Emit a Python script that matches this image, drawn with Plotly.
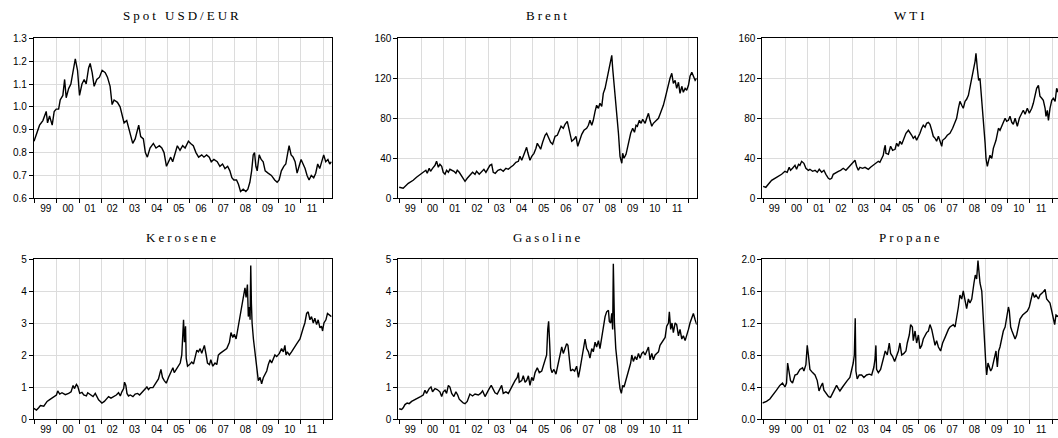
import numpy as np
import pandas as pd
import plotly.graph_objects as go
from datetime import datetime

# ---------------- data (decimal years) ----------------
usd_t = [1998.97, 1999.10, 1999.22, 1999.37, 1999.52, 1999.58, 1999.67, 1999.79, 1999.88, 1999.97,
         2000.08, 2000.15, 2000.27, 2000.35, 2000.42, 2000.53, 2000.63, 2000.72, 2000.83, 2000.93,
         2001.02, 2001.13, 2001.23, 2001.32, 2001.43, 2001.50, 2001.59, 2001.68, 2001.80, 2001.92,
         2002.04, 2002.18, 2002.28, 2002.40, 2002.49, 2002.58, 2002.73, 2002.85, 2002.94, 2003.03,
         2003.15, 2003.24, 2003.33, 2003.42, 2003.53, 2003.60, 2003.69, 2003.78, 2003.90, 2003.99,
         2004.08, 2004.20, 2004.35, 2004.47, 2004.62, 2004.73, 2004.83, 2004.94, 2005.03, 2005.13,
         2005.22, 2005.33, 2005.43, 2005.55, 2005.67, 2005.78, 2005.93, 2006.03, 2006.15, 2006.27,
         2006.39, 2006.53, 2006.63, 2006.75, 2006.87, 2006.96, 2007.08, 2007.23, 2007.35, 2007.47,
         2007.58, 2007.70, 2007.80, 2007.89, 2007.98, 2008.10, 2008.19, 2008.28, 2008.40, 2008.52,
         2008.61, 2008.70, 2008.78, 2008.85, 2008.91, 2008.97, 2009.03, 2009.12, 2009.21, 2009.30,
         2009.39, 2009.52, 2009.67, 2009.82, 2009.93, 2010.02, 2010.12, 2010.23, 2010.32, 2010.41,
         2010.47, 2010.56, 2010.65, 2010.74, 2010.83, 2010.92, 2011.01, 2011.10, 2011.19, 2011.28,
         2011.37, 2011.47, 2011.58, 2011.67, 2011.76, 2011.85, 2011.94, 2012.03, 2012.12, 2012.22,
         2012.30, 2012.38]
usd_v = [0.85, 0.89, 0.92, 0.94, 0.98, 0.93, 0.96, 0.92, 0.98, 0.99,
         0.99, 1.03, 1.05, 1.12, 1.04, 1.08, 1.10, 1.15, 1.21, 1.16,
         1.05, 1.10, 1.12, 1.10, 1.17, 1.19, 1.15, 1.09, 1.12, 1.13,
         1.16, 1.15, 1.13, 1.09, 1.01, 1.03, 1.02, 1.00, 0.96, 0.93,
         0.94, 0.91, 0.87, 0.84, 0.86, 0.89, 0.92, 0.87, 0.86, 0.80,
         0.78, 0.82, 0.84, 0.82, 0.83, 0.82, 0.80, 0.74, 0.76, 0.78,
         0.76, 0.80, 0.83, 0.81, 0.83, 0.82, 0.85, 0.84, 0.83, 0.80,
         0.78, 0.79, 0.78, 0.79, 0.78, 0.76, 0.77, 0.76, 0.74, 0.75,
         0.73, 0.74, 0.72, 0.69, 0.68, 0.68, 0.66, 0.63, 0.64, 0.63,
         0.64, 0.67, 0.72, 0.79, 0.80, 0.74, 0.72, 0.79, 0.77, 0.76,
         0.72, 0.71, 0.70, 0.68, 0.67, 0.68, 0.72, 0.74, 0.75, 0.80,
         0.83, 0.79, 0.78, 0.76, 0.71, 0.74, 0.77, 0.75, 0.73, 0.70,
         0.68, 0.70, 0.69, 0.71, 0.75, 0.73, 0.76, 0.79, 0.76, 0.77,
         0.75, 0.76]

brent_t = [1999.00, 1999.18, 1999.41, 1999.63, 1999.78, 1999.93, 2000.08, 2000.20, 2000.26, 2000.35,
           2000.41, 2000.50, 2000.61, 2000.68, 2000.76, 2000.83, 2000.91, 2000.98, 2001.06, 2001.13,
           2001.21, 2001.28, 2001.36, 2001.46, 2001.55, 2001.61, 2001.70, 2001.76, 2001.81, 2001.88,
           2001.96, 2002.06, 2002.18, 2002.30, 2002.41, 2002.48, 2002.60, 2002.71, 2002.81, 2002.90,
           2002.99, 2003.08, 2003.16, 2003.23, 2003.32, 2003.44, 2003.56, 2003.68, 2003.80, 2003.91,
           2004.01, 2004.13, 2004.25, 2004.36, 2004.43, 2004.51, 2004.58, 2004.66, 2004.73, 2004.78,
           2004.88, 2004.96, 2005.06, 2005.15, 2005.21, 2005.29, 2005.36, 2005.45, 2005.56, 2005.63,
           2005.71, 2005.81, 2005.90, 2006.01, 2006.11, 2006.20, 2006.28, 2006.38, 2006.46, 2006.56,
           2006.68, 2006.76, 2006.86, 2006.95, 2007.03, 2007.10, 2007.21, 2007.31, 2007.43, 2007.51,
           2007.58, 2007.66, 2007.73, 2007.81, 2007.88, 2007.96, 2008.03, 2008.11, 2008.18, 2008.26,
           2008.33, 2008.41, 2008.48, 2008.56, 2008.60, 2008.66, 2008.74, 2008.78, 2008.86, 2008.93,
           2009.01, 2009.05, 2009.11, 2009.20, 2009.26, 2009.35, 2009.41, 2009.50, 2009.58, 2009.65,
           2009.71, 2009.80, 2009.88, 2009.95, 2010.06, 2010.13, 2010.21, 2010.28, 2010.36, 2010.43,
           2010.55, 2010.66, 2010.73, 2010.81, 2010.88, 2010.96, 2011.03, 2011.11, 2011.18, 2011.26,
           2011.33, 2011.41, 2011.48, 2011.56, 2011.63, 2011.71, 2011.78, 2011.86, 2011.93, 2012.01,
           2012.08, 2012.16, 2012.23, 2012.31, 2012.38]
brent_v = [11, 10, 15, 18, 21, 24, 26, 28, 25, 30,
           27, 30, 33, 37, 31, 34, 32, 26, 24, 28,
           26, 29, 28, 27, 25, 28, 26, 24, 21, 19,
           17, 20, 23, 26, 24, 27, 24, 27, 29, 26,
           30, 33, 34, 26, 25, 28, 29, 27, 30, 29,
           31, 33, 36, 37, 42, 38, 42, 48, 51, 46,
           38, 42, 45, 50, 55, 52, 49, 56, 63, 65,
           60, 56, 54, 62, 63, 68, 72, 70, 74, 77,
           64, 57, 59, 62, 52, 57, 64, 68, 70, 73,
           78, 73, 78, 87, 93, 90, 95, 92, 105, 110,
           117, 125, 133, 143, 130, 115, 100, 85, 65, 42,
           35, 45, 40, 44, 50, 57, 65, 70, 66, 73,
           72, 78, 75, 79, 75, 80, 85, 78, 72, 75,
           78, 80, 84, 88, 93, 100, 107, 115, 120, 125,
           115, 118, 110, 116, 105, 112, 106, 110, 108, 113,
           122, 126, 122, 118, 120]

wti_t = [1999.00, 1999.12, 1999.23, 1999.38, 1999.60, 1999.83, 1999.98, 2000.08, 2000.17, 2000.23,
         2000.32, 2000.43, 2000.50, 2000.59, 2000.65, 2000.73, 2000.83, 2000.92, 2001.03, 2001.10,
         2001.22, 2001.33, 2001.43, 2001.52, 2001.63, 2001.73, 2001.82, 2001.93, 2002.00, 2002.08,
         2002.15, 2002.27, 2002.38, 2002.48, 2002.60, 2002.72, 2002.83, 2002.93, 2003.05, 2003.13,
         2003.20, 2003.28, 2003.35, 2003.47, 2003.58, 2003.73, 2003.83, 2003.95, 2004.07, 2004.18,
         2004.25, 2004.33, 2004.40, 2004.45, 2004.49, 2004.52, 2004.63, 2004.73, 2004.82, 2004.93,
         2005.00, 2005.08, 2005.15, 2005.23, 2005.33, 2005.42, 2005.53, 2005.60, 2005.68, 2005.75,
         2005.83, 2005.90, 2005.98, 2006.05, 2006.13, 2006.20, 2006.28, 2006.35, 2006.43, 2006.50,
         2006.58, 2006.65, 2006.73, 2006.80, 2006.88, 2006.95, 2007.03, 2007.07, 2007.18, 2007.28,
         2007.40, 2007.52, 2007.63, 2007.70, 2007.78, 2007.85, 2007.93, 2008.00, 2008.08, 2008.15,
         2008.23, 2008.30, 2008.38, 2008.45, 2008.53, 2008.57, 2008.63, 2008.69, 2008.75, 2008.83,
         2008.90, 2008.98, 2009.02, 2009.08, 2009.14, 2009.20, 2009.28, 2009.35, 2009.47, 2009.58,
         2009.65, 2009.73, 2009.80, 2009.88, 2009.95, 2010.03, 2010.10, 2010.18, 2010.25, 2010.33,
         2010.43, 2010.52, 2010.63, 2010.70, 2010.78, 2010.88, 2010.97, 2011.08, 2011.15, 2011.23,
         2011.30, 2011.38, 2011.45, 2011.53, 2011.60, 2011.68, 2011.72, 2011.78, 2011.83, 2011.90,
         2011.98, 2012.05, 2012.13, 2012.20, 2012.27]
wti_v = [12, 11, 14, 18, 21, 24, 27, 26, 31, 28,
         30, 33, 29, 34, 33, 37, 35, 30, 28, 29,
         27, 28, 26, 29, 26, 28, 24, 20, 19, 20,
         24, 26, 27, 28, 30, 28, 31, 33, 37, 38,
         32, 28, 31, 30, 31, 29, 31, 33, 35, 37,
         36, 39, 43, 50, 53, 45, 44, 52, 48, 49,
         55, 52, 57, 54, 60, 65, 68, 66, 63, 60,
         62, 58, 61, 65, 70, 73, 71, 75, 76, 74,
         68, 62, 60, 57, 62, 58, 52, 58, 60, 63,
         65, 70, 76, 80, 90, 97, 93, 90, 97, 99,
         103, 112, 120, 128, 137, 145, 130, 118, 120, 100,
         80, 55, 40, 32, 38, 43, 40, 50, 58, 70,
         68, 72, 75, 80, 77, 78, 82, 76, 74, 80,
         72, 80, 85, 88, 84, 90, 85, 90, 95, 103,
         110, 113, 102, 100, 98, 90, 82, 88, 78, 90,
         98, 100, 97, 110, 106]

kero_t = [1998.96, 1999.08, 1999.18, 1999.26, 1999.41, 1999.56, 1999.71, 1999.86, 1999.98, 2000.04,
          2000.13, 2000.23, 2000.38, 2000.53, 2000.64, 2000.73, 2000.79, 2000.88, 2000.94, 2001.03,
          2001.13, 2001.21, 2001.33, 2001.39, 2001.51, 2001.63, 2001.73, 2001.81, 2001.88, 2001.96,
          2002.03, 2002.14, 2002.23, 2002.33, 2002.44, 2002.56, 2002.68, 2002.78, 2002.86, 2002.93,
          2003.01, 2003.05, 2003.11, 2003.16, 2003.23, 2003.31, 2003.43, 2003.53, 2003.64, 2003.73,
          2003.83, 2003.94, 2004.06, 2004.13, 2004.21, 2004.33, 2004.43, 2004.58, 2004.69, 2004.76,
          2004.84, 2004.93, 2005.03, 2005.14, 2005.23, 2005.29, 2005.38, 2005.48, 2005.56, 2005.63,
          2005.68, 2005.71, 2005.75, 2005.80, 2005.83, 2005.89, 2005.98, 2006.08, 2006.16, 2006.25,
          2006.31, 2006.38, 2006.46, 2006.53, 2006.61, 2006.65, 2006.73, 2006.79, 2006.88, 2006.94,
          2007.03, 2007.13, 2007.21, 2007.28, 2007.36, 2007.48, 2007.58, 2007.66, 2007.78, 2007.85,
          2007.93, 2008.00, 2008.08, 2008.18, 2008.26, 2008.33, 2008.41, 2008.48, 2008.53, 2008.59,
          2008.63, 2008.68, 2008.71, 2008.74, 2008.77, 2008.80, 2008.86, 2008.93, 2009.01, 2009.08,
          2009.16, 2009.23, 2009.31, 2009.38, 2009.46, 2009.53, 2009.61, 2009.68, 2009.76, 2009.83,
          2009.91, 2010.03, 2010.13, 2010.21, 2010.28, 2010.33, 2010.39, 2010.48, 2010.58, 2010.66,
          2010.81, 2010.96, 2011.03, 2011.11, 2011.18, 2011.26, 2011.33, 2011.41, 2011.48, 2011.56,
          2011.63, 2011.71, 2011.78, 2011.86, 2011.93, 2011.98, 2012.04, 2012.13, 2012.20, 2012.28,
          2012.38]
kero_v = [0.33, 0.28, 0.35, 0.42, 0.40, 0.55, 0.62, 0.70, 0.75, 0.88,
          0.78, 0.82, 0.76, 0.80, 0.85, 1.05, 0.95, 1.08, 1.02, 0.80,
          0.83, 0.75, 0.72, 0.82, 0.75, 0.70, 0.80, 0.70, 0.60, 0.55,
          0.50, 0.55, 0.62, 0.70, 0.65, 0.70, 0.75, 0.82, 0.72, 0.85,
          0.95, 1.15, 1.05, 0.80, 0.72, 0.75, 0.70, 0.78, 0.80, 0.75,
          0.82, 0.90, 1.00, 0.92, 0.98, 0.98, 1.10, 1.25, 1.55, 1.30,
          1.20, 1.12, 1.30, 1.45, 1.60, 1.45, 1.55, 1.65, 1.75, 2.00,
          2.50, 3.10, 2.40, 2.90, 1.90, 1.65, 1.70, 1.78, 1.72, 2.00,
          2.15, 2.10, 2.20, 2.05, 2.20, 2.30, 2.00, 1.75, 1.70, 1.85,
          1.65, 1.75, 1.70, 2.00, 2.05, 2.10, 2.15, 2.20, 2.40, 2.70,
          2.55, 2.65, 2.50, 2.90, 3.20, 3.50, 3.70, 4.10, 3.80, 4.20,
          3.20, 3.50, 3.10, 4.80, 3.60, 3.00, 2.50, 2.10, 1.50, 1.20,
          1.30, 1.10, 1.30, 1.40, 1.50, 1.70, 1.85, 1.75, 1.90, 2.00,
          1.95, 2.05, 2.20, 2.10, 2.30, 2.00, 2.10, 2.00, 2.10, 2.20,
          2.35, 2.50, 2.70, 2.85, 3.00, 3.30, 3.35, 3.10, 3.20, 3.00,
          3.15, 2.95, 3.10, 2.85, 2.90, 2.75, 3.00, 3.10, 3.30, 3.25,
          3.20]

gas_t = [1999.00, 1999.11, 1999.18, 1999.26, 1999.36, 1999.45, 1999.56, 1999.71, 1999.86, 1999.96,
         2000.08, 2000.16, 2000.23, 2000.35, 2000.43, 2000.50, 2000.61, 2000.71, 2000.83, 2000.91,
         2000.98, 2001.06, 2001.13, 2001.21, 2001.28, 2001.36, 2001.46, 2001.55, 2001.63, 2001.70,
         2001.81, 2001.88, 2001.96, 2002.06, 2002.18, 2002.30, 2002.41, 2002.56, 2002.66, 2002.75,
         2002.86, 2002.96, 2003.05, 2003.14, 2003.20, 2003.31, 2003.41, 2003.50, 2003.61, 2003.68,
         2003.80, 2003.91, 2004.01, 2004.10, 2004.21, 2004.31, 2004.36, 2004.40, 2004.51, 2004.58,
         2004.66, 2004.73, 2004.81, 2004.88, 2004.96, 2005.03, 2005.11, 2005.21, 2005.30, 2005.41,
         2005.48, 2005.56, 2005.63, 2005.68, 2005.72, 2005.77, 2005.81, 2005.87, 2005.96, 2006.05,
         2006.14, 2006.20, 2006.26, 2006.31, 2006.38, 2006.46, 2006.53, 2006.59, 2006.65, 2006.71,
         2006.80, 2006.89, 2006.98, 2007.06, 2007.13, 2007.21, 2007.28, 2007.36, 2007.43, 2007.51,
         2007.58, 2007.66, 2007.73, 2007.81, 2007.88, 2007.96, 2008.03, 2008.11, 2008.18, 2008.26,
         2008.33, 2008.41, 2008.45, 2008.51, 2008.56, 2008.60, 2008.63, 2008.68, 2008.74, 2008.78,
         2008.83, 2008.87, 2008.93, 2008.99, 2009.05, 2009.11, 2009.19, 2009.26, 2009.35, 2009.41,
         2009.46, 2009.53, 2009.61, 2009.68, 2009.76, 2009.83, 2009.91, 2009.98, 2010.06, 2010.13,
         2010.21, 2010.28, 2010.36, 2010.43, 2010.51, 2010.58, 2010.66, 2010.73, 2010.81, 2010.88,
         2010.96, 2011.03, 2011.11, 2011.15, 2011.21, 2011.27, 2011.33, 2011.41, 2011.48, 2011.56,
         2011.63, 2011.71, 2011.78, 2011.86, 2011.93, 2012.01, 2012.08, 2012.16, 2012.23, 2012.31,
         2012.38]
gas_v = [0.32, 0.30, 0.35, 0.45, 0.50, 0.48, 0.55, 0.60, 0.65, 0.70,
         0.75, 0.90, 0.80, 0.95, 1.00, 0.85, 0.95, 0.92, 0.85, 0.70,
         0.85, 0.90, 0.80, 1.05, 1.00, 0.80, 0.70, 0.85, 0.75, 0.62,
         0.55, 0.50, 0.48, 0.55, 0.78, 0.72, 0.78, 0.75, 0.80, 0.88,
         0.70, 0.85, 0.95, 1.05, 0.95, 0.82, 0.78, 0.90, 1.05, 0.80,
         0.85, 0.80, 0.95, 1.05, 1.20, 1.30, 1.45, 1.15, 1.20, 1.35,
         1.15, 1.20, 1.35, 1.05, 1.30, 1.20, 1.45, 1.60, 1.45, 1.50,
         1.65, 1.80, 2.00, 2.80, 3.05, 2.30, 1.60, 1.45, 1.55, 1.40,
         1.70, 1.80, 2.00, 2.25, 2.05, 2.20, 2.35, 2.30, 1.80, 1.50,
         1.55, 1.50, 1.65, 1.30, 1.55, 1.85, 2.20, 2.50, 2.20, 2.10,
         1.90, 2.20, 2.10, 2.40, 2.25, 2.45, 2.20, 2.60, 2.80, 3.20,
         3.35, 3.40, 3.05, 3.00, 3.30, 2.80, 4.85, 3.00, 2.20, 2.00,
         1.60, 1.30, 0.95, 0.80, 1.05, 1.00, 1.20, 1.35, 1.55, 1.75,
         2.00, 1.80, 1.95, 1.85, 2.05, 1.90, 2.05, 2.10, 2.00, 2.15,
         2.25, 1.85, 2.05, 1.85, 2.00, 2.05, 2.10, 2.30, 2.40, 2.45,
         2.55, 2.90, 3.00, 3.35, 2.80, 3.00, 2.70, 3.00, 2.95, 2.60,
         2.80, 2.50, 2.60, 2.45, 2.60, 2.80, 3.00, 3.20, 3.30, 3.10,
         2.95]

prop_t = [1998.97, 1999.15, 1999.30, 1999.45, 1999.60, 1999.75, 1999.87, 1999.98, 2000.05, 2000.10,
          2000.16, 2000.23, 2000.32, 2000.43, 2000.53, 2000.65, 2000.77, 2000.83, 2000.92, 2000.98,
          2001.04, 2001.10, 2001.22, 2001.33, 2001.43, 2001.51, 2001.58, 2001.67, 2001.73, 2001.85,
          2001.94, 2002.03, 2002.12, 2002.23, 2002.30, 2002.38, 2002.45, 2002.57, 2002.68, 2002.78,
          2002.90, 2002.98, 2003.05, 2003.10, 2003.14, 2003.17, 2003.23, 2003.32, 2003.43, 2003.53,
          2003.65, 2003.77, 2003.88, 2003.98, 2004.03, 2004.07, 2004.10, 2004.18, 2004.28, 2004.40,
          2004.49, 2004.58, 2004.67, 2004.73, 2004.82, 2004.91, 2005.00, 2005.08, 2005.15, 2005.23,
          2005.33, 2005.42, 2005.48, 2005.57, 2005.63, 2005.71, 2005.75, 2005.83, 2005.90, 2005.98,
          2006.05, 2006.13, 2006.20, 2006.28, 2006.35, 2006.43, 2006.50, 2006.58, 2006.65, 2006.73,
          2006.80, 2006.88, 2006.98, 2007.07, 2007.18, 2007.25, 2007.33, 2007.40, 2007.55, 2007.63,
          2007.70, 2007.78, 2007.85, 2007.93, 2008.00, 2008.08, 2008.15, 2008.23, 2008.30, 2008.38,
          2008.42, 2008.48, 2008.54, 2008.60, 2008.66, 2008.71, 2008.75, 2008.83, 2008.87, 2008.90,
          2008.93, 2008.98, 2009.02, 2009.05, 2009.11, 2009.17, 2009.23, 2009.29, 2009.35, 2009.41,
          2009.47, 2009.53, 2009.59, 2009.65, 2009.73, 2009.80, 2009.88, 2009.95, 2010.03, 2010.07,
          2010.13, 2010.19, 2010.25, 2010.33, 2010.40, 2010.48, 2010.55, 2010.67, 2010.78, 2010.88,
          2010.97, 2011.05, 2011.12, 2011.20, 2011.27, 2011.38, 2011.45, 2011.57, 2011.68, 2011.75,
          2011.83, 2011.90, 2011.98, 2012.05, 2012.11, 2012.17, 2012.27]
prop_v = [0.20, 0.22, 0.25, 0.30, 0.36, 0.42, 0.45, 0.40, 0.45, 0.70,
          0.58, 0.48, 0.45, 0.55, 0.56, 0.62, 0.64, 0.60, 0.68, 0.92,
          0.78, 0.62, 0.58, 0.55, 0.48, 0.35, 0.40, 0.45, 0.36, 0.32,
          0.28, 0.27, 0.32, 0.38, 0.42, 0.38, 0.35, 0.40, 0.45, 0.48,
          0.52, 0.60, 0.70, 0.80, 1.26, 0.60, 0.50, 0.55, 0.55, 0.52,
          0.55, 0.56, 0.55, 0.65, 0.75, 0.92, 0.62, 0.58, 0.62, 0.75,
          0.85, 0.80, 0.95, 0.82, 0.78, 0.72, 0.80, 0.85, 0.95, 0.80,
          0.82, 0.85, 0.95, 1.05, 1.18, 1.15, 0.98, 1.10, 0.95, 1.05,
          0.88, 0.92, 1.00, 1.05, 1.08, 1.10, 1.18, 1.12, 1.00, 0.92,
          0.98, 0.90, 0.85, 0.95, 1.02, 1.08, 1.12, 1.15, 1.18, 1.15,
          1.25, 1.40, 1.55, 1.50, 1.60, 1.45, 1.38, 1.50, 1.45, 1.50,
          1.60, 1.70, 1.80, 1.75, 1.98, 1.85, 1.70, 1.60, 1.40, 1.25,
          0.95, 0.75, 0.65, 0.55, 0.70, 0.65, 0.60, 0.63, 0.70, 0.75,
          0.85, 0.65, 0.85, 0.90, 1.00, 1.10, 1.15, 1.25, 1.40, 1.35,
          1.15, 1.10, 1.05, 1.00, 1.05, 1.15, 1.25, 1.30, 1.33, 1.35,
          1.40, 1.50, 1.58, 1.52, 1.55, 1.50, 1.55, 1.58, 1.62, 1.50,
          1.48, 1.45, 1.35, 1.25, 1.18, 1.30, 1.28]

titles = ["Spot USD/EUR", "Brent", "WTI", "Kerosene", "Gasoline", "Propane"]
series = [(usd_t, usd_v), (brent_t, brent_v), (wti_t, wti_v),
          (kero_t, kero_v), (gas_t, gas_v), (prop_t, prop_v)]
y_ranges = [[0.6, 1.3], [0, 160], [0, 160], [0, 5], [0, 5], [0, 2]]
y_dticks = [0.1, 40, 40, 1, 1, 0.4]
y_formats = [".1f", "d", "d", "d", "d", ".1f"]
year_bounds = list(range(1999, 2013))
label_years = list(range(1999, 2012))
year_labels = [f"{y % 100:02d}" for y in label_years]


def to_date(y):
    yr = int(np.floor(y))
    start = datetime(yr, 1, 1)
    end = datetime(yr + 1, 1, 1)
    return start + (end - start) * (y - yr)


# ---------------- layout geometry ----------------
W, H = 1058, 438
col_px = [(33.8, 331.7), (398.3, 696.7), (762.3, 1058.0)]
row_px = [(38.3, 198.3), (259.0, 419.0)]
x_end = [2012.39, 2012.38, 2012.26]
x_start = 1998.96
title_cx = [182.5, 547.5, 911.0]
title_cy = [15.0, 237.0]

fig = go.Figure()
layout = dict(
    width=W, height=H,
    margin=dict(l=0, r=0, t=0, b=0, autoexpand=False),
    paper_bgcolor="white", plot_bgcolor="white",
    showlegend=False,
    font=dict(family="Liberation Sans, Arial, sans-serif", size=10, color="#000"),
)
annotations = []

for i, ((t, v), title) in enumerate(zip(series, titles)):
    r, c = divmod(i, 3)
    k = i + 1
    xa = "x" if k == 1 else f"x{k}"
    ya = "y" if k == 1 else f"y{k}"
    xl = f"x{k + 6}"   # overlay axis carrying the centred year labels
    x0, x1 = col_px[c]
    y0, y1 = row_px[r]
    xdom = [x0 / W, min(x1 / W, 1.0)]
    xrng = [to_date(x_start), to_date(x_end[c])]
    fig.add_trace(go.Scatter(
        x=[to_date(d) for d in t], y=v, mode="lines",
        line=dict(color="black", width=1.4),
        xaxis=xa, yaxis=ya, hoverinfo="skip",
    ))
    # invisible helper trace so the label axis is drawn
    fig.add_trace(go.Scatter(
        x=[xrng[0]], y=[None], mode="lines",
        line=dict(color="rgba(0,0,0,0)"),
        xaxis=xl, yaxis=ya, hoverinfo="skip",
    ))
    layout["xaxis" if k == 1 else f"xaxis{k}"] = dict(
        domain=xdom, anchor=ya, automargin=False,
        type="date", range=xrng,
        tickmode="array",
        tickvals=[datetime(y, 1, 1) for y in year_bounds],
        showticklabels=False,
        ticks="outside", ticklen=4, tickcolor="black", tickwidth=1,
        showgrid=True, gridcolor="#dcdcdc", gridwidth=1,
        showline=True, linecolor="black", linewidth=1, mirror=True,
        zeroline=False,
    )
    layout[f"xaxis{k + 6}"] = dict(
        domain=xdom, anchor=ya, overlaying=xa, side="bottom", automargin=False,
        type="date", range=xrng,
        tickmode="array",
        tickvals=[datetime(y, 7, 2) for y in label_years],
        ticktext=year_labels,
        ticks="outside", ticklen=4, tickcolor="rgba(0,0,0,0)",
        ticklabelstandoff=-3,
        showgrid=False, showline=False, zeroline=False,
        tickfont=dict(size=10, color="#000"),
    )
    layout["yaxis" if k == 1 else f"yaxis{k}"] = dict(
        domain=[1 - y1 / H, 1 - y0 / H],
        anchor=xa, automargin=False,
        range=y_ranges[i],
        dtick=y_dticks[i], tick0=0,
        tickformat=y_formats[i],
        ticks="outside", ticklen=4, tickcolor="black", tickwidth=1,
        showgrid=True, gridcolor="#dcdcdc", gridwidth=1,
        showline=True, linecolor="black", linewidth=1, mirror=True,
        zeroline=False,
        tickfont=dict(size=10, color="#000"),
    )
    annotations.append(dict(
        text=f'<span style="letter-spacing:3px">{title}</span>',
        xref="paper", yref="paper",
        x=title_cx[c] / W, y=1 - title_cy[r] / H,
        xanchor="center", yanchor="middle", showarrow=False,
        font=dict(family="Liberation Serif, Times New Roman, serif", size=13, color="#000"),
    ))

layout["annotations"] = annotations
fig.update_layout(**layout)
fig.write_html("out.html", config={"displayModeBar": False},
               post_script="document.body.style.margin='0';")
